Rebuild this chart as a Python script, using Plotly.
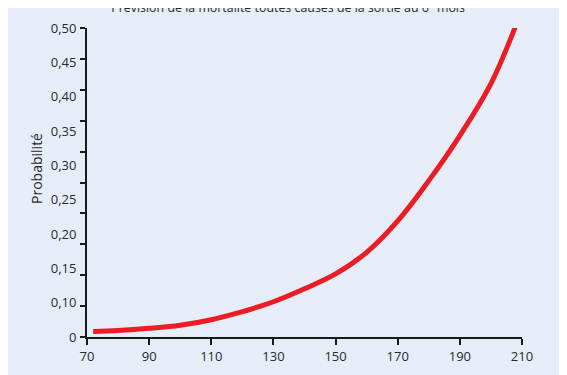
import plotly.graph_objects as go

# Data
x_vals = [72, 80, 90, 100, 110, 120, 130, 140, 150, 160, 170, 180, 190, 200, 208]
prob = [0.009, 0.0105, 0.014, 0.019, 0.028, 0.041, 0.057, 0.078, 0.102, 0.137, 0.188, 0.253, 0.326, 0.410, 0.504]

x_ticks = [70, 90, 110, 130, 150, 170, 190, 210]
# tick marks every 0.05; the labels in the reference are spread evenly over the axis
y_tick_marks = [0, 0.05, 0.10, 0.15, 0.20, 0.25, 0.30, 0.35, 0.40, 0.45, 0.50]
y_tick_text = ["0", "0,10", "0,15", "0,20", "0,25", "0,30", "0,35", "0,40", "0,45", "0,50"]
y_label_pos = [i * 0.5 / (len(y_tick_text) - 1) for i in range(len(y_tick_text))]

title_text = "Prévision de la mortalité toutes causes de la sortie au 6<sup>e</sup> mois"
y_title = "Probabilité"

BG = "#e6edf8"
TXT = "#2a2a2a"
AX = "#1a1a1a"
FONT = "Open Sans"

fig = go.Figure()
fig.add_trace(go.Scatter(
    x=x_vals, y=prob, mode="lines",
    line=dict(color="#ec1c24", width=5, shape="spline", smoothing=1.0),
    hoverinfo="skip", showlegend=False,
))

fig.update_layout(
    width=567, height=375,
    paper_bgcolor=BG, plot_bgcolor=BG,
    margin=dict(l=79, r=53, t=20, b=46, autoexpand=False),
    font=dict(family=FONT, size=13, color=TXT),
    title=dict(text=title_text, x=0.494, xanchor="center",
               y=1.0, yanchor="middle", yref="container", automargin=False,
               font=dict(family=FONT, size=12.4, color=TXT)),
    xaxis=dict(range=[70, 210], tickvals=x_ticks, ticktext=[str(v) for v in x_ticks],
               automargin=False,
               showgrid=False, zeroline=False, showline=True, linecolor=AX,
               linewidth=2, ticks="outside", ticklen=6, tickwidth=2, tickcolor=AX,
               tickfont=dict(size=13, color=TXT)),
    yaxis=dict(range=[0, 0.5], tickvals=y_label_pos, ticktext=y_tick_text,
               automargin=False,
               showgrid=False, zeroline=False, showline=True, linecolor=AX,
               linewidth=2, ticks="", ticklabelstandoff=6,
               minor=dict(tickvals=y_tick_marks, ticks="outside", ticklen=5,
                          tickwidth=2, tickcolor=AX, showgrid=False),
               tickfont=dict(size=13, color=TXT)),
    annotations=[
        dict(text=y_title, xref="paper", yref="paper",
             x=-0.115, y=0.547, xanchor="center", yanchor="middle",
             textangle=-90, showarrow=False,
             font=dict(family=FONT, size=14, color=TXT)),
    ],
)

fig.write_html("out.html")
